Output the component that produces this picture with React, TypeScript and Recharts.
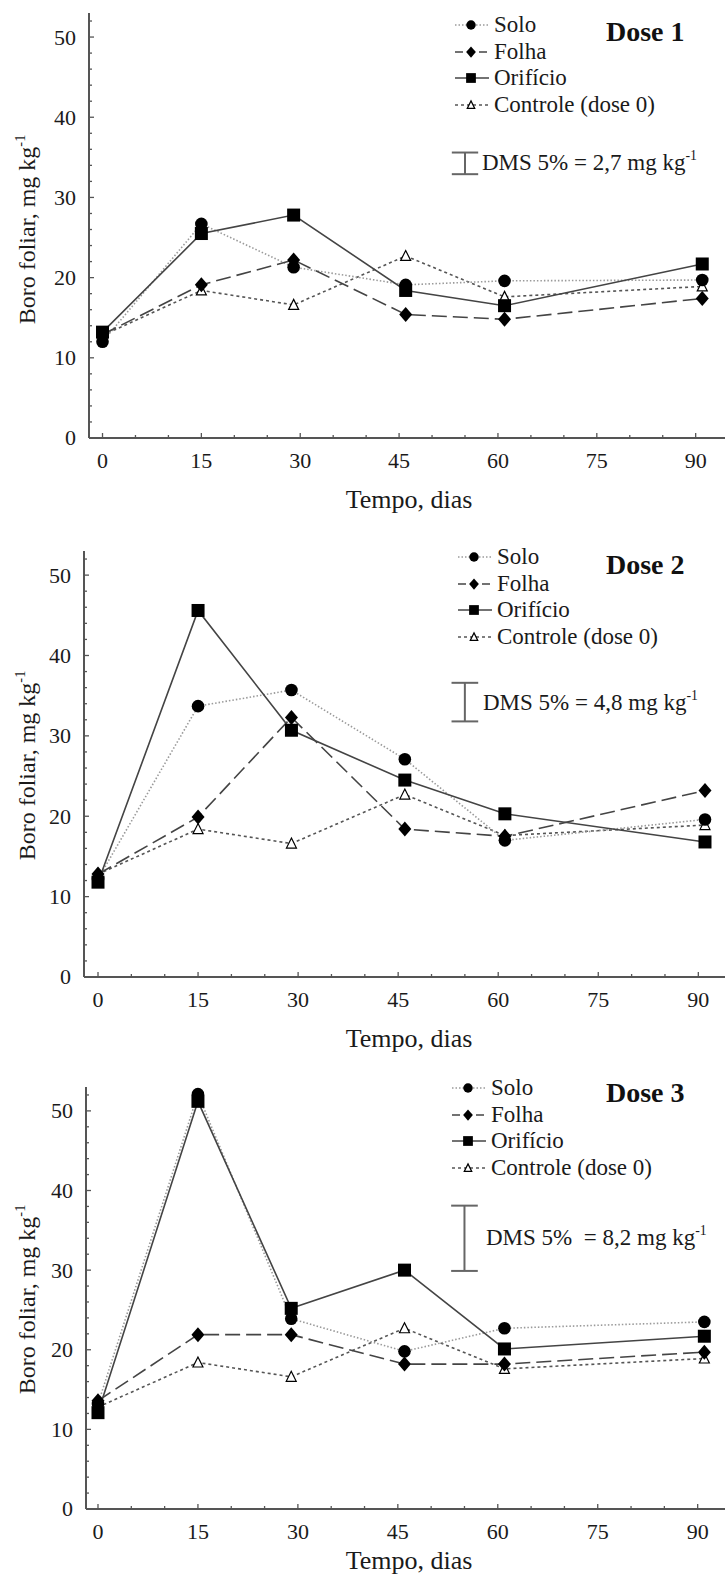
import React from "react";
import { LineChart, Line, XAxis, YAxis, ReferenceLine } from "recharts";

// sampling days (points sit slightly off the 30/45/60/90 ticks in the original)
const DIAS = [0, 15, 29, 46, 61, 91];

const X_TICKS = [0, 5, 10, 15, 20, 25, 30, 35, 40, 45, 50, 55, 60, 65, 70, 75, 80, 85, 90];
const Y_TICKS = [0, 2, 4, 6, 8, 10, 12, 14, 16, 18, 20, 22, 24, 26, 28, 30, 32, 34, 36, 38, 40, 42, 44, 46, 48, 50, 52];

// boro foliar, mg kg-1
const CONTROLE = [12.8, 18.4, 16.6, 22.7, 17.6, 18.9];

const SOLO_D1 = [12.0, 26.7, 21.3, 19.1, 19.6, 19.7];
const FOLHA_D1 = [12.9, 19.1, 22.2, 15.4, 14.8, 17.4];
const ORIFICIO_D1 = [13.2, 25.5, 27.8, 18.4, 16.5, 21.7];

const SOLO_D2 = [12.2, 33.7, 35.7, 27.1, 17.0, 19.6];
const FOLHA_D2 = [12.8, 19.9, 32.3, 18.4, 17.5, 23.2];
const ORIFICIO_D2 = [11.8, 45.6, 30.7, 24.5, 20.3, 16.8];

const SOLO_D3 = [13.2, 52.1, 23.9, 19.8, 22.7, 23.5];
const FOLHA_D3 = [13.6, 21.9, 21.9, 18.2, 18.2, 19.7];
const ORIFICIO_D3 = [12.1, 51.2, 25.2, 30.0, 20.1, 21.7];

const DMS = [2.7, 4.8, 8.2];
const DOSES = ["Dose 1", "Dose 2", "Dose 3"];

const FONT = "'Liberation Serif', 'DejaVu Serif', serif";
const AXIS = "#555";

type Kind = "circle" | "diamond" | "square" | "triangle";

const SERIES: Array<{ key: string; label: string; kind: Kind; stroke: string; dash?: string }> = [
  { key: "controle", label: "Controle (dose 0)", kind: "triangle", stroke: "#555", dash: "3 3" },
  { key: "solo", label: "Solo", kind: "circle", stroke: "#9a9a9a", dash: "1.5 2" },
  { key: "folha", label: "Folha", kind: "diamond", stroke: "#444", dash: "15 6" },
  { key: "orificio", label: "Orifício", kind: "square", stroke: "#444" },
];
const LEGEND_ORDER = ["solo", "folha", "orificio", "controle"];

function buildRows(solo: number[], folha: number[], orificio: number[]) {
  return DIAS.map((dia, i) => ({
    dia,
    solo: solo[i],
    folha: folha[i],
    orificio: orificio[i],
    controle: CONTROLE[i],
  }));
}

const DATASETS = [
  buildRows(SOLO_D1, FOLHA_D1, ORIFICIO_D1),
  buildRows(SOLO_D2, FOLHA_D2, ORIFICIO_D2),
  buildRows(SOLO_D3, FOLHA_D3, ORIFICIO_D3),
];

// layout of each panel on the page
const PANELS = [
  { top: 0, height: 530, axisX: 89, plotTop: 13, axisY: 438, xDomain: [-2.05, 94.45], dmsLow: 32.9, titleY: 228, legendY: 25, legendX: 453, doseY: 32, dmsTextY: 163, dmsTextX: 482, xTitleY: 500 },
  { top: 530, height: 530, axisX: 84, plotTop: 551, axisY: 977, xDomain: [-2.1, 94.0], dmsLow: 31.8, titleY: 764, legendY: 557, legendX: 456, doseY: 565, dmsTextY: 703, dmsTextX: 483, xTitleY: 1039 },
  { top: 1060, height: 519, axisX: 86, plotTop: 1087, axisY: 1509, xDomain: [-1.8, 94.1], dmsLow: 29.9, titleY: 1298, legendY: 1088, legendX: 450, doseY: 1093, dmsTextY: 1238, dmsTextX: 486, xTitleY: 1561 },
];

function Marker({ kind, cx, cy, s = 1 }: { kind: Kind; cx: number; cy: number; s?: number }) {
  if (kind === "circle") return <circle cx={cx} cy={cy} r={6.3 * s} fill="#000" />;
  if (kind === "square")
    return <rect x={cx - 6.5 * s} y={cy - 6.5 * s} width={13 * s} height={13 * s} fill="#000" />;
  if (kind === "diamond")
    return (
      <polygon
        points={`${cx},${cy - 7.5 * s} ${cx + 6.5 * s},${cy} ${cx},${cy + 7.5 * s} ${cx - 6.5 * s},${cy}`}
        fill="#000"
      />
    );
  return (
    <polygon
      points={`${cx},${cy - 5.5 * s} ${cx + 5 * s},${cy + 4.5 * s} ${cx - 5 * s},${cy + 4.5 * s}`}
      fill="#fff"
      stroke="#000"
      strokeWidth={1.2}
    />
  );
}

// eslint-disable-next-line @typescript-eslint/no-explicit-any
function YTick({ x, y, payload }: any) {
  const v = payload.value as number;
  const major = v % 10 === 0;
  return (
    <g>
      <line x1={x} x2={x + (major ? 5 : 3)} y1={y} y2={y} stroke={AXIS} strokeWidth={1.3} />
      {major && (
        <text x={x - 13} y={y} dy="0.34em" textAnchor="end" fontSize={22} fill="#1a1a1a" fontFamily={FONT}>
          {v}
        </text>
      )}
    </g>
  );
}

// eslint-disable-next-line @typescript-eslint/no-explicit-any
function XTick({ x, y, payload }: any) {
  const v = payload.value as number;
  const major = v % 15 === 0;
  return (
    <g>
      <line x1={x} x2={x} y1={y} y2={y - (major ? 5 : 3)} stroke={AXIS} strokeWidth={1.3} />
      {major && (
        <text x={x} y={y + 23} dy="0.34em" textAnchor="middle" fontSize={22} fill="#1a1a1a" fontFamily={FONT}>
          {v}
        </text>
      )}
    </g>
  );
}

function Sup({ children }: { children: React.ReactNode }) {
  return (
    <span style={{ fontSize: "0.6em", position: "relative", top: "-0.7em" }}>{children}</span>
  );
}

function Panel({ idx }: { idx: number }) {
  const p = PANELS[idx];
  const data = DATASETS[idx];
  const dmsHigh = p.dmsLow + DMS[idx];
  const dmsX = 55;
  const cap = 2;
  return (
    <>
      <div style={{ position: "absolute", left: 0, top: p.top }}>
        <LineChart
          width={725}
          height={p.height}
          data={data}
          margin={{ top: p.plotTop - p.top, right: 0, bottom: 0, left: 0 }}
        >
          <XAxis
            type="number"
            dataKey="dia"
            domain={p.xDomain}
            ticks={X_TICKS}
            interval={0}
            allowDataOverflow
            height={p.top + p.height - p.axisY}
            tickSize={0}
            tickMargin={0}
            tick={<XTick />}
            axisLine={{ stroke: AXIS, strokeWidth: 2 }}
          />
          <YAxis
            type="number"
            domain={[0, 53]}
            ticks={Y_TICKS}
            interval={0}
            allowDataOverflow
            width={p.axisX}
            tickSize={0}
            tickMargin={0}
            tick={<YTick />}
            axisLine={{ stroke: AXIS, strokeWidth: 2 }}
          />
          {/* DMS 5% bar */}
          <ReferenceLine segment={[{ x: dmsX, y: p.dmsLow }, { x: dmsX, y: dmsHigh }]} stroke="#666" strokeWidth={2} ifOverflow="visible" />
          <ReferenceLine segment={[{ x: dmsX - cap, y: p.dmsLow }, { x: dmsX + cap, y: p.dmsLow }]} stroke="#666" strokeWidth={2} ifOverflow="visible" />
          <ReferenceLine segment={[{ x: dmsX - cap, y: dmsHigh }, { x: dmsX + cap, y: dmsHigh }]} stroke="#666" strokeWidth={2} ifOverflow="visible" />
          {SERIES.map((s) => (
            <Line
              key={s.key}
              type="linear"
              dataKey={s.key}
              stroke={s.stroke}
              strokeWidth={1.6}
              strokeDasharray={s.dash}
              isAnimationActive={false}
              // eslint-disable-next-line @typescript-eslint/no-explicit-any
              dot={(d: any) => <Marker key={`${s.key}-${d.index}`} kind={s.kind} cx={d.cx} cy={d.cy} />}
              activeDot={false}
            />
          ))}
        </LineChart>
      </div>

      {/* Y title */}
      <div
        style={{
          position: "absolute",
          left: 28 - 140,
          top: p.titleY - 13,
          width: 280,
          lineHeight: "26px",
          textAlign: "center",
          fontSize: 24,
          fontFamily: FONT,
          color: "#1a1a1a",
          transform: "rotate(-90deg)",
          whiteSpace: "nowrap",
        }}
      >
        Boro foliar, mg kg<Sup>-1</Sup>
      </div>

      {/* X title */}
      <div
        style={{
          position: "absolute",
          left: 409 - 100,
          top: p.xTitleY - 14,
          width: 200,
          lineHeight: "28px",
          textAlign: "center",
          fontSize: 26,
          fontFamily: FONT,
          color: "#1a1a1a",
        }}
      >
        Tempo, dias
      </div>

      {/* Legend */}
      {LEGEND_ORDER.map((key, i) => {
        const s = SERIES.find((x) => x.key === key)!;
        return (
          <div
            key={key}
            style={{
              position: "absolute",
              left: p.legendX,
              top: p.legendY + i * 26.7 - 13,
              height: 26,
              display: "flex",
              alignItems: "center",
              fontFamily: FONT,
              fontSize: 23,
              color: "#1a1a1a",
              whiteSpace: "nowrap",
            }}
          >
            <svg width={38} height={20} style={{ marginRight: 3 }}>
              <line x1={2} x2={36} y1={10} y2={10} stroke={s.stroke} strokeWidth={1.6} strokeDasharray={s.dash ? (s.key === "folha" ? "8 4" : s.dash) : undefined} />
              <Marker kind={s.kind} cx={18} cy={10} s={0.75} />
            </svg>
            <span>{s.label}</span>
          </div>
        );
      })}

      {/* Dose label */}
      <div
        style={{
          position: "absolute",
          left: 606,
          top: p.doseY - 14,
          lineHeight: "28px",
          fontSize: 28,
          fontWeight: "bold",
          fontFamily: FONT,
          color: "#111",
          whiteSpace: "nowrap",
        }}
      >
        {DOSES[idx]}
      </div>

      {/* DMS text */}
      <div
        style={{
          position: "absolute",
          left: p.dmsTextX,
          top: p.dmsTextY - 12,
          lineHeight: "24px",
          fontSize: 23,
          fontFamily: FONT,
          color: "#1a1a1a",
          whiteSpace: "nowrap",
        }}
      >
        DMS 5%{idx === 2 ? "\u00a0 " : " "}= {DMS[idx].toFixed(1).replace(".", ",")} mg kg<Sup>-1</Sup>
      </div>
    </>
  );
}

export default function App() {
  return (
    <div
      style={{
        position: "absolute",
        left: 0,
        top: 0,
        width: 725,
        height: 1579,
        background: "#fff",
        overflow: "hidden",
      }}
    >
      <Panel idx={0} />
      <Panel idx={1} />
      <Panel idx={2} />
    </div>
  );
}
